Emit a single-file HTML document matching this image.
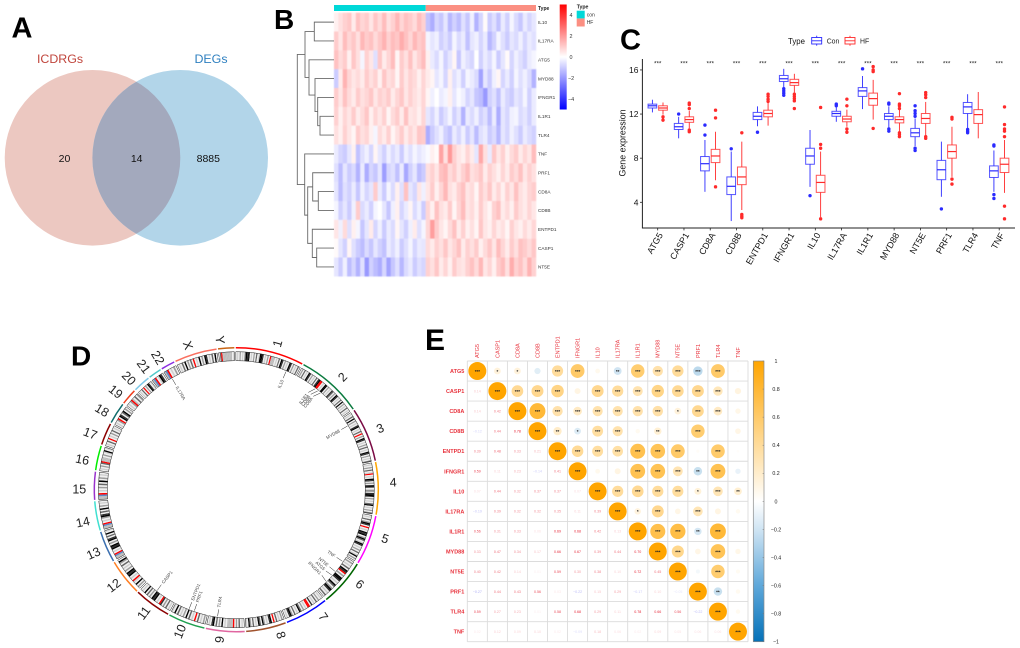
<!DOCTYPE html>
<html lang="en">
<head>
<meta charset="utf-8">
<title>Multi-panel gene expression figure</title>
<style>
html,body{margin:0;padding:0;background:#fff;width:1020px;height:648px;overflow:hidden}
svg{display:block}
text{font-family:"Liberation Sans",Arial,sans-serif}
</style>
</head>
<body>
<svg id="fig" xmlns="http://www.w3.org/2000/svg" width="1020" height="648" viewBox="0 0 1020 648">
  <defs>
    <clipPath id="venn-left-clip"><circle cx="92.5" cy="157.8" r="87.8"/></clipPath>
    <linearGradient id="heat-scale" x1="0" y1="0" x2="0" y2="1">
      <stop offset="0" stop-color="#ff0000"/><stop offset="0.5" stop-color="#ffffff"/><stop offset="1" stop-color="#0000ff"/>
    </linearGradient>
    <linearGradient id="corr-scale" x1="0" y1="0" x2="0" y2="1">
      <stop offset="0" stop-color="#ffa500"/><stop offset="0.2" stop-color="#ffca69"/><stop offset="0.4" stop-color="#ffedcc"/><stop offset="0.5" stop-color="#ffffff"/><stop offset="0.6" stop-color="#cfe4f3"/><stop offset="0.8" stop-color="#5fa8da"/><stop offset="1" stop-color="#0571b8"/>
    </linearGradient>
  </defs>

  <!-- Panel letters -->
  <g font-weight="bold" fill="#000">
    <text x="11.5" y="37.3" font-size="29">A</text>
    <text x="274" y="29" font-size="28">B</text>
    <text x="620" y="49.5" font-size="29">C</text>
    <text x="71" y="365.5" font-size="28">D</text>
    <text x="425" y="350" font-size="30">E</text>
  </g>

  <!-- Panel A: Venn -->
  <g>
    <circle cx="92.5" cy="157.8" r="87.8" fill="#ecc8c1"/>
    <circle cx="180.2" cy="157.8" r="87.8" fill="#b2d5e9"/>
    <circle cx="180.2" cy="157.8" r="87.8" fill="#a3a9bd" clip-path="url(#venn-left-clip)"/>
    <text x="60" y="63" text-anchor="middle" font-size="12.4" fill="#c0453c">ICDRGs</text>
    <text x="211" y="63" text-anchor="middle" font-size="12.4" fill="#2f80c0">DEGs</text>
    <text x="64.5" y="162" text-anchor="middle" font-size="10.5" fill="#111">20</text>
    <text x="136.7" y="162" text-anchor="middle" font-size="10.5" fill="#111">14</text>
    <text x="208.3" y="162" text-anchor="middle" font-size="10.5" fill="#111">8885</text>
  </g>

  <g id="panel-b"></g>
  <g id="panel-c"></g>
  <g id="panel-d"></g>
  <g id="panel-e"></g>
</svg>

<script>
/* ---------- Panel B data ---------- */
const heatGenes = ['IL10','IL17RA','ATG5','MYD88','IFNGR1','IL1R1','TLR4','TNF','PRF1','CD8A','CD8B','ENTPD1','CASP1','NT5E'];
const heatConColumns = 21;
const heatIL10   = [.3,.6,.9,1.1,.4,1.2,.8,1.0,.5,1.1,.7,1.3,.6,.9,1.4,.8,1.2,1.0,.7,1.3,.9,-1.2,-1.6,-.8,-1.1,-.5,-1.4,-.9,-1.3,-.6,-1.1,-.3,-1.5,-.8,.1,-1.0,-.6,-1.2,-.4,-.9,-.2,-.7,-1.1,-.4,-.8,-.5];
const heatIL17RA = [1.0,.5,1.3,.8,1.1,.6,1.4,1.0,1.2,.7,1.1,1.5,.9,1.3,1.1,1.6,1.2,.8,1.4,1.0,1.2,-.2,-.5,-.3,-.9,-.6,-1.0,-.2,-.7,-.4,-1.2,-.5,-.3,-.8,-.4,-1.4,-.9,-.2,-.6,-1.0,-.5,-.7,-.3,-.8,-.4,-.6];
const heatATG5   = [1.2,.7,1.0,.3,1.1,.6,-.2,.9,.5,-.6,1.1,.4,.8,1.3,.2,1.0,.6,1.2,.5,.9,1.3,.3,-.4,-.7,-.2,-.9,-.5,.2,-1.1,-.3,-.6,-.8,0,-.9,-.4,-.7,-.2,-1.0,-.5,.1,-.8,-.3,-.6,-.9,-.4,-.2];
const heatMYD88  = [-1.0,.4,1.5,.8,.5,.7,.4,1.0,.6,.9,.3,1.1,.6,.8,.2,1.0,.5,.9,.7,.3,.8,.4,.2,-.5,-.2,-.8,.3,-.6,-.3,-.9,-.2,-.4,-.7,-1.8,-.5,-1.0,-.3,.2,-.8,-.4,-.9,-.2,-.6,-.3,-.7,-1.5];
const heatIFNGR1 = [1.0,.5,1.2,.7,.4,1.0,.6,.8,1.1,.5,.9,.7,1.0,.4,.8,1.1,.5,.9,.6,.4,.8,.2,-.3,0,-.4,-.2,.3,-.5,-.1,-.3,-.8,-.5,-1.1,-1.3,-2.0,-.9,-.6,-1.2,-.4,-.8,-1.0,-.5,-.7,-.2,-.9,-.4];
const heatIL1R1  = [.9,.3,.8,.5,1.0,.4,.7,1.1,.3,.8,.5,.9,.2,.7,1.0,.4,1.2,.5,.6,.3,.8,-.5,-.8,-.3,-1.0,-.6,-.2,-.9,-.5,-1.5,-.4,-.7,-.3,-.9,-.6,-1.3,-.4,-1.6,-.5,-.8,-.3,-.2,-.7,-.5,-.9,-.4];
const heatTLR4   = [.6,.3,.9,.5,.2,1.0,.6,.8,.3,-.2,.7,.4,.9,.2,.6,1.0,.4,.8,.5,1.1,1.0,-1.6,-1.0,-.6,-.3,-.9,-1.2,-.4,-.8,-.3,-1.0,-.5,-1.3,-.6,-.4,-1.0,-.7,-1.4,-.5,-.8,-.3,-.6,-1.0,-.4,-.7,-.9];
const heatTNF    = [-.4,-.8,-1.0,-.5,.3,-1.2,-.6,-.3,-.8,.2,-.5,-.9,-.3,-.7,-.4,-1.0,-.3,-.6,-.2,-.5,-.3,-.1,.3,.1,1.8,.6,2.0,.9,.5,.3,.8,.4,-.5,1.7,.6,-.4,1.1,.5,.9,.3,.7,1.0,.4,.8,.5,1.3];
const heatPRF1   = [-.6,-1.3,-.5,-1.0,-.7,-1.5,-.4,-1.6,-.8,-1.1,-.5,-1.9,-.8,-.6,-1.2,-.4,-1.7,-.9,-.5,-1.3,-1.0,.6,.9,.5,1.2,1.4,.7,1.0,.5,.9,1.3,.6,.8,1.1,.4,.9,.6,.3,.8,.4,1.0,.7,1.2,.5,.9,.6];
const heatCD8A   = [-.5,-1.3,-.6,-.9,-.4,-1.1,-.3,-.8,-.5,1.0,-.4,-1.0,-.2,-.7,.3,-.6,1.2,-.5,-.8,.5,-.3,.5,1.0,.3,.8,1.4,.6,.4,.9,1.2,.5,.7,.2,1.0,.6,1.1,.4,.8,.3,.9,.5,1.2,.6,.4,.8,1.0];
const heatCD8B   = [-.2,-.9,-.5,-1.0,-.3,1.0,-.7,-.4,-.9,-.2,0,-.5,-1.1,-.3,.3,-.8,-.4,.2,-.7,-.3,-1.0,.8,.3,1.2,.6,.4,1.0,.2,.8,1.3,.5,.7,.3,1.0,.5,.2,.9,1.2,.4,.7,.3,1.0,.6,.4,.8,.5];
const heatENTPD1 = [.5,-.3,.7,-.6,.3,-.2,-1.1,-.5,.4,-.8,-.3,-1.0,-.4,-.7,.2,-.5,-.9,-.3,.4,-.6,-.2,.8,1.9,1.0,.5,.2,.7,1.2,.4,.9,.3,.6,.2,1.1,.5,.3,.8,.4,.6,.2,.9,.5,.3,.7,.4,.8];
const heatCASP1  = [.1,-.5,-.9,.2,-.6,-1.0,-1.3,-.7,-1.1,-.5,-.9,-1.2,-.4,-.7,-.3,-1.0,-.6,-.2,-.8,-.4,-.5,.7,.4,.9,.6,1.1,.5,.8,1.2,.4,.9,.6,1.0,.3,.7,1.1,.5,1.3,.8,.4,1.0,.6,1.2,1.0,.7,1.1];
const heatNT5E   = [-.5,-1.0,-.3,-1.3,-.8,-1.5,-.6,-2.0,-.9,-1.3,-1.6,-.8,-1.8,-1.1,-.6,-1.4,-.7,-.4,-1.0,-.6,-.8,.9,.6,1.1,.4,.8,.3,1.0,.6,.5,.9,1.2,.7,1.4,.5,.8,.3,1.0,1.3,.6,1.6,.9,1.2,.7,1.5,.9];
const heatRows = [heatIL10,heatIL17RA,heatATG5,heatMYD88,heatIFNGR1,heatIL1R1,heatTLR4,heatTNF,heatPRF1,heatCD8A,heatCD8B,heatENTPD1,heatCASP1,heatNT5E];
const heatTicks = [4,2,0,-2,-4];
/* tree node = [merge height, child, child]; a number child is a row index */
const heatTree = [36.7,
  [29,[19.7,0,1],[25,2,[19,3,[16.3,4,[14,5,6]]]]],
  [29.3,7,[26.3,[21.3,8,[15.7,9,10]],[21.7,11,[17.3,12,13]]]]];

/* ---------- Panel C data ---------- */
const boxGenes = ['ATG5','CASP1','CD8A','CD8B','ENTPD1','IFNGR1','IL10','IL17RA','IL1R1','MYD88','NT5E','PRF1','TLR4','TNF'];
const boxYTicks = [4,8,12,16];
const conLow = [12.15,9.8,4.95,2.3,10.9,14.35,5.4,11.3,12.45,10.75,9.1,4.5,10.7,4.95];
const conQ1  = [12.55,10.6,6.85,4.7,11.5,14.95,7.45,11.8,13.6,11.5,9.95,6.05,12.05,6.25];
const conMed = [12.75,10.85,7.5,5.45,11.8,15.2,8.2,12.05,14.1,11.8,10.3,6.95,12.65,6.85];
const conQ3  = [12.9,11.15,8.15,6.3,12.15,15.5,8.9,12.25,14.4,12.05,10.7,7.8,13.05,7.3];
const conHigh= [13.3,11.75,9.65,8.6,12.7,16.1,10.55,12.6,15.45,12.7,11.6,9.5,13.8,8.7];
const conOutliers = [[],[12.0],[11,10.1],[8.85],[10.35],[14.3,14.1,13.9,13.7],[4.6],[12.9,12.75],[16.1],[13,12.9,10.65,10.45],[12.75,12.3,12.05,11.8,8.9,8.7],[3.4],[10.6,10.45,10.3],[9.2,9.1,4.7,4.35]];
const hfLow = [11.95,10.7,6.0,3.3,10.95,13.95,2.65,10.85,11.5,10.4,10.05,6.3,9.8,4.85];
const hfQ1  = [12.35,11.25,7.6,5.6,11.75,14.6,4.9,11.3,12.8,11.2,11.15,8.0,11.15,6.7];
const hfMed = [12.55,11.5,8.2,6.3,12.05,14.85,5.8,11.55,13.4,11.5,11.6,8.6,11.95,7.45];
const hfQ3  = [12.75,11.75,8.8,7.2,12.35,15.15,6.45,11.8,13.9,11.75,12.05,9.2,12.4,8.0];
const hfHigh= [13.05,12.3,10.4,9.5,13.1,15.65,8.6,12.4,15.1,12.4,13.1,10.85,14,9.65];
const hfOutliers = [[11.75,11.45],[13,12.85,12.5,10.55,10.4],[12.35,11.65,5.4],[10.3,2.9,2.75,2.6],[13.8,13.6,13.35,13.15],[13.8,13.6,13.4,13.2,12.5],[12.6,9.25,8.9,2.5],[13.35,12.75,10.65,10.35],[16.3,16,15.85,10.7],[13.85,12.9,12.75,12.5,10.3,10.15,9.95],[13.95,13.75,13.5,9.95,9.8],[11.7,11.55,6.1,5.65],[],[12.65,11.05,10.65,10.45,9.95,3.65,2.5]];
const boxSignificance = ['***','***','***','***','***','***','***','***','***','***','***','***','***','***'];

/* ---------- Panel D data ---------- */
const chromNames = ['1','2','3','4','5','6','7','8','9','10','11','12','13','14','15','16','17','18','19','20','21','22','X','Y'];
const chromSizes = [249,243,198,191,181,171,159,146,141,135,135,133,115,107,102,90,81,78,59,63,48,51,155,59];
const chromLabelAngles = [15.8,43.4,67,87.4,108.3,127.5,145.7,163,186.3,201.6,216.8,231.9,245.9,258,270,281,291,300.5,309,316,323,329.2,341.4,353.7];
const chromColors = ['#ff0000','#0a7a3e','#7a0a44','#ffa500','#ff00ff','#006400','#0000ff','#a0522d','#e066a0','#1fa050','#8b0000','#ff7f24','#3b6fb0','#40e0d0','#9932cc','#00ee00','#8b0000','#0f6b6b','#ee4020','#7ec8e8','#50c8c8','#8a2be2','#fa7060','#c86414'];
/* cytoband stains: w white, a light, g grey, b mid, c dark, d darker, k black, r centromere, n stalk */
const chromBands = [
 'wawbwawckdkwawbwcwakkdwawbwrgggwawcwkdwbwawkdwbwawcw',
 'wbwcwawkdwbwawcwdkrrwawkkwbwawdcwbwkdwawcwkwbwawcwaw',
 'wawcwkwbwawdkwawcwrwbwkdwawbwcwawkdwbwawc',
 'wawbwcwarwawkdwbwkdwacwdkkwbwawckwawbwc',
 'wawcwbkdwrwawkdkwbkcwakdwawbwcwakwbw',
 'wbwawcwkdrwbwkkdwawkcwbkdwawcw',
 'wawbwcwawdwrrwawbwckwawcwbkdwaw',
 'wbwawcwrwkdwawbkwckwawcwbkwa',
 'wawcwbwrggggwawkwbwcwkdwaw',
 'wbwawcwrwawcwkwbwawcwkwa',
 'wawcwbwdrwawkdkwbwcwkwaw',
 'wbwkwarwawkdkwbwawcwbkw',
 'ggnrwawkdkwbwkdwcwkwa',
 'ggnrwawbkdwcwkwbwaw',
 'ggnrwawbwcwkwbwaw',
 'wawbwcrgggwbwakwa',
 'wawcwrwawbwcwaw',
 'wawbrwkdwckwbw',
 'wawbrgwcwb',
 'wawcwrwbwkdwa',
 'gnrwakdw',
 'gnrwawbw',
 'wawcwkwbwcwrwawkwbwkdwawcwkw',
 'wcrggggggggwa'
];
const geneNames = ['IL10','IL1R1','CD8B','CD8A','MYD88','TNF','NT5E','ATG5','IFNGR1','TLR4','PRF1','ENTPD1','CASP1','IL17RA'];
const geneAngles = [22.8,38,39.5,41,60.2,124,129.6,131.8,135.6,188.4,199.1,201.6,218.1,330];
const geneLabelAngles = [22.8,36.5,38,39.5,60.2,124,129.6,132.2,135,188.4,199.1,201.6,218.3,330];

/* ---------- Panel E data ---------- */
const corrGenes = ['ATG5','CASP1','CD8A','CD8B','ENTPD1','IFNGR1','IL10','IL17RA','IL1R1','MYD88','NT5E','PRF1','TLR4','TNF'];
const corrLower = [
 [],
 [.14],
 [.14,.42],
 [-.12,.44,.78],
 [.39,.48,.33,.21],
 [.59,.11,.23,-.14,.41],
 [.07,.44,.32,.37,.37,.07],
 [-.19,.39,.32,.32,.35,.11,.39],
 [.56,.31,.33,.06,.69,.68,.42,.13],
 [.33,.47,.34,.17,.66,.67,.39,.44,.70],
 [.40,.42,.14,.01,.59,.30,.38,.10,.72,.45],
 [-.27,.44,.43,.56,.03,-.22,.15,.29,-.17,.10,-.05],
 [.59,.27,.23,.01,.58,.68,.29,.11,.78,.66,.56,-.22],
 [.02,.12,.09,.10,.02,-.09,.18,.06,.02,.09,.05,.06,.06]
];
const corrTicks = [1,.8,.6,.4,.2,0,-.2,-.4,-.6,-.8,-1];

/* ---------- helpers ---------- */
const NS = 'http://www.w3.org/2000/svg';
function mk(tag, attrs, parent, content){
  const node = document.createElementNS(NS, tag);
  for (const k in attrs) node.setAttribute(k, attrs[k]);
  if (content !== undefined) node.textContent = content;
  parent.appendChild(node);
  return node;
}
function mixHex(c, t){ return c.map(v => Math.round(255 + (v - 255) * t)); }
function rgb(a){ return 'rgb(' + a.join(',') + ')'; }

/* ---------- Panel B ---------- */
(function(){
  const root = document.getElementById('panel-b');
  const left = 334, right = 536, top = 12.7, rowH = 18.83;
  const nCols = heatRows[0].length;
  const hfCols = nCols - heatConColumns;
  const splitX = 425.7;
  const colX = c => c < heatConColumns ? left + (splitX - left) * c / heatConColumns : splitX + (right - splitX) * (c - heatConColumns) / hfCols;
  const rowY = r => top + rowH * r;
  const heatColor = v => v >= 0 ? rgb(mixHex([255,0,0], Math.min(1, v / 5))) : rgb(mixHex([0,0,255], Math.min(1, -v / 5)));

  let el = mk('rect', {x:left, y:5, width:splitX-left, height:6, fill:'#00d8d8'}, root);
  
  
  el = mk('rect', {x:splitX, y:5, width:right-splitX, height:6, fill:'#fb8f82'}, root);
  
  
  el = mk('text', {x:538, y:10, 'font-size':5, 'font-weight':'bold', fill:'#222'}, root, 'Type');
  
  

  const cells = mk('g', {style:'filter:blur(0.5px)'}, root);
  
  
  heatRows.forEach((row, r) => {
    row.forEach((v, c) => {
      const x0 = colX(c), x1 = c + 1 < nCols ? colX(c + 1) : right;
      const cell = mk('rect', {x:x0, y:rowY(r), width:x1 - x0 + .2, height:rowH + .2, fill:heatColor(v)}, cells);
      
      
    });
  });
  heatGenes.forEach((g, r) => {
    const t = mk('text', {x:538, y:rowY(r) + rowH / 2 + 1.7, 'font-size':4.7, fill:'#333'}, root, g);
    
    
  });

  /* dendrogram */
  const dend = mk('g', {fill:'none', stroke:'#6a6a6a', 'stroke-width':.9}, root);
  
  
  function draw(node){
    if (typeof node === 'number') return {x:left, y:rowY(node) + rowH / 2};
    const x = left - node[0];
    const a = draw(node[1]), b = draw(node[2]);
    const p = mk('path', {d:`M${a.x} ${a.y}H${x}V${b.y}H${b.x}`}, dend);
    
    
    return {x, y:(a.y + b.y) / 2};
  }
  draw(heatTree);

  /* colour bar */
  const scaleY = v => 57 - v * 10.5;
  el = mk('rect', {x:559.7, y:scaleY(5), width:7, height:105, fill:'url(#heat-scale)'}, root);
  
  
  heatTicks.forEach(v => {
    const t = mk('text', {x:v < 0 ? 568 : 569.5, y:scaleY(v) + 2, 'font-size':5.4, fill:'#333'}, root, v < 0 ? '\u2212' + (-v) : String(v));
    
    
  });

  /* legend */
  el = mk('text', {x:576.7, y:8.5, 'font-size':5.2, 'font-weight':'bold', fill:'#222'}, root, 'Type');
  
  
  el = mk('rect', {x:576.7, y:10.7, width:8, height:7.7, fill:'#00d8d8'}, root);
  
  
  el = mk('rect', {x:576.7, y:18.5, width:8, height:8, fill:'#fb8f82'}, root);
  
  
  el = mk('text', {x:586.7, y:16.5, 'font-size':5, fill:'#333'}, root, 'con');
  
  
  el = mk('text', {x:586.7, y:24.2, 'font-size':5, fill:'#333'}, root, 'HF');
  
  
})();

/* ---------- Panel C ---------- */
(function(){
  const root = document.getElementById('panel-c');
  const yScale = v => 202.3 - (v - 4) * 11.03;
  const xScale = i => 657.7 + i * 26.27;
  const BLUE = '#2a2aff', RED = '#ff2a2a';

  let el = mk('path', {d:'M642.4 59V228H1015', fill:'none', stroke:'#222', 'stroke-width':1}, root);
  
  

  boxYTicks.forEach(v => {
    const y = yScale(v);
    const tick = mk('line', {x1:640, x2:642.4, y1:y, y2:y, stroke:'#222', 'stroke-width':.8}, root);
    
    
    const t = mk('text', {x:638.5, y:y + 3, 'text-anchor':'end', 'font-size':8.5, fill:'#111'}, root, String(v));
    
    
  });
  el = mk('text', {x:0, y:0, transform:'translate(625.5 143) rotate(-90)', 'text-anchor':'middle', 'font-size':8.9, fill:'#111'}, root, 'Gene expression');
  
  

  function drawBox(i, off, color, lo, q1, med, q3, hi, outs, name){
    const cx = xScale(i) + off, w = 8.7;
    const g = mk('g', {stroke:color, fill:'none'}, root);
    
    
    const wh = mk('line', {x1:cx, x2:cx, y1:yScale(hi), y2:yScale(lo), 'stroke-width':.9}, g);
    
    
    const box = mk('rect', {x:cx - w / 2, y:yScale(q3), width:w, height:yScale(q1) - yScale(q3), fill:'#fff', 'stroke-opacity':.8, 'stroke-width':1}, g);
    
    
    const m = mk('line', {x1:cx - w / 2, x2:cx + w / 2, y1:yScale(med), y2:yScale(med), 'stroke-width':1.2}, g);
    
    
    outs.forEach(v => {
      const p = mk('circle', {cx:cx, cy:yScale(v), r:1.7, fill:color, stroke:'none'}, g);
      
      
    });
  }
  boxGenes.forEach((gene, i) => {
    drawBox(i, -5.3, BLUE, conLow[i], conQ1[i], conMed[i], conQ3[i], conHigh[i], conOutliers[i], 'box-con-' + gene.toLowerCase());
    drawBox(i, 5.3, RED, hfLow[i], hfQ1[i], hfMed[i], hfQ3[i], hfHigh[i], hfOutliers[i], 'box-hf-' + gene.toLowerCase());
    const x = xScale(i);
    const tick = mk('line', {x1:x, x2:x, y1:228, y2:230.4, stroke:'#222', 'stroke-width':.8}, root);
    
    
    const lab = mk('text', {x:0, y:0, transform:`translate(${x + 5.5} 235) rotate(-60)`, 'text-anchor':'end', 'font-size':8.9, fill:'#111'}, root, gene);
    
    
    const sig = mk('text', {x:x, y:65.6, 'text-anchor':'middle', 'font-size':6.4, fill:'#222'}, root, boxSignificance[i]);
    
    
  });

  /* legend */
  el = mk('text', {x:788, y:44, 'font-size':7.8, fill:'#111'}, root, 'Type');
  
  
  function key(x, color, label, name){
    const g = mk('g', {stroke:color, fill:'#fff', 'stroke-width':.9}, root);
    
    
    mk('line', {x1:x + 5, x2:x + 5, y1:35.7, y2:45.7}, g);
    mk('rect', {x:x, y:37.5, width:10, height:6.5}, g);
    mk('line', {x1:x, x2:x + 10, y1:40.8, y2:40.8}, g);
    const t = mk('text', {x:x + 15, y:43.5, 'font-size':6.9, fill:'#222'}, root, label);
    
    
  }
  key(811.7, BLUE, 'Con', 'legend-key-con');
  key(845, RED, 'HF', 'legend-key-hf');
})();

/* ---------- Panel D ---------- */
(function(){
  const root = document.getElementById('panel-d');
  const cx = 236.3, cy = 489.7;
  const gap = 0.6;
  const total = chromSizes.reduce((a, b) => a + b, 0);
  const degPerMb = (360 - gap * chromSizes.length) / total;
  const pt = (r, a) => {
    const t = a * Math.PI / 180;
    return [cx + r * Math.sin(t), cy - r * Math.cos(t)];
  };
  const arc = (r, a0, a1) => {
    const p0 = pt(r, a0), p1 = pt(r, a1);
    return `M${p0[0].toFixed(2)} ${p0[1].toFixed(2)}A${r} ${r} 0 ${a1 - a0 > 180 ? 1 : 0} 1 ${p1[0].toFixed(2)} ${p1[1].toFixed(2)}`;
  };
  const sector = (r0, r1, a0, a1) => {
    const a = pt(r1, a0), b = pt(r1, a1), c = pt(r0, a1), d = pt(r0, a0);
    return `M${a[0].toFixed(2)} ${a[1].toFixed(2)}A${r1} ${r1} 0 0 1 ${b[0].toFixed(2)} ${b[1].toFixed(2)}L${c[0].toFixed(2)} ${c[1].toFixed(2)}A${r0} ${r0} 0 0 0 ${d[0].toFixed(2)} ${d[1].toFixed(2)}Z`;
  };
  const stain = {w:'#efefef', a:'#cfcfcf', g:'#bdbdbd', b:'#9c9c9c', c:'#666666', d:'#2e2e2e', k:'#000000', r:'#ff0000', n:'#5a8ac8'};

  let a = -0.2;
  chromNames.forEach((name, i) => {
    const span = chromSizes[i] * degPerMb;
    const a0 = a, a1 = a + span;
    const ring = mk('path', {d:arc(142, a0, a1), fill:'none', stroke:chromColors[i], 'stroke-width':1.5}, root);
    
    

    const bands = chromBands[i];
    const step = span / bands.length;
    const grp = mk('g', {}, root);
    
    
    for (let b = 0; b < bands.length; b++) {
      const band = mk('path', {d:sector(129, 138, a0 + b * step, a0 + (b + 1) * step + .02), fill:stain[bands[b]]}, grp);
      
      
    }
    const outline = mk('path', {d:sector(129, 138, a0, a1), fill:'none', stroke:'#222', 'stroke-width':.5}, grp);
    
    

    const la = chromLabelAngles[i];
    const rot = la < 180 ? la - 90 : la - 270;
    const lr = 150 + 7 * Math.abs(Math.sin(la * Math.PI / 180));
    const lp = pt(lr, la);
    const lab = mk('text', {x:0, y:0, transform:`translate(${lp[0].toFixed(2)} ${lp[1].toFixed(2)}) rotate(${rot.toFixed(1)})`, 'text-anchor':'middle', 'dominant-baseline':'central', 'font-size':12.5, fill:'#222'}, root, name);
    
    
    a = a1 + gap;
  });

  geneNames.forEach((g, i) => {
    const p0 = pt(128, geneAngles[i]), p1 = pt(121, geneLabelAngles[i]);
    const ln = mk('line', {x1:p0[0], y1:p0[1], x2:p1[0], y2:p1[1], stroke:'#222', 'stroke-width':.5}, root);
    
    
    const la = geneLabelAngles[i];
    const tp = pt(119, la);
    const rot = la < 180 ? la - 90 : la - 270;
    const t = mk('text', {x:0, y:0, transform:`translate(${tp[0].toFixed(2)} ${tp[1].toFixed(2)}) rotate(${rot.toFixed(1)})`, 'text-anchor':la < 180 ? 'end' : 'start', 'dominant-baseline':'central', 'font-size':4.5, fill:'#444'}, root, g);
    
    
  });
})();

/* ---------- Panel E ---------- */
(function(){
  const root = document.getElementById('panel-e');
  const x0 = 467.3, y0 = 361, cell = 20.05, n = corrGenes.length;
  const cx = i => x0 + cell * (i + .5);
  const cy = i => y0 + cell * (i + .5);
  const corrValue = (r, c) => r === c ? 1 : (r > c ? corrLower[r][c] : corrLower[c][r]);
  const corrColor = v => v >= 0 ? rgb(mixHex([255,165,0], v)) : rgb(mixHex([5,113,184], -v));
  const stars = v => { const m = Math.abs(v); return m >= .23 ? '***' : m >= .17 ? '**' : m >= .13 ? '*' : ''; };

  for (let i = 0; i <= n; i++) {
    const gx = x0 + cell * i, gy = y0 + cell * i;
    const v = mk('line', {x1:gx, x2:gx, y1:y0, y2:y0 + cell * n, stroke:'#dcdcdc', 'stroke-width':.9}, root);
    
    
    const h = mk('line', {x1:x0, x2:x0 + cell * n, y1:gy, y2:gy, stroke:'#dcdcdc', 'stroke-width':.9}, root);
    
    
  }
  corrGenes.forEach((g, i) => {
    const top = mk('text', {x:0, y:0, transform:`translate(${cx(i) + 1.9} 358) rotate(-90)`, 'font-size':5.5, fill:'#e8323c'}, root, g);
    
    
    const left = mk('text', {x:464.3, y:cy(i) + 2, 'text-anchor':'end', 'font-size':5.5, 'font-weight':'bold', fill:'#e8323c'}, root, g);
    
    
  });
  for (let r = 0; r < n; r++) {
    for (let c = 0; c < n; c++) {
      const v = corrValue(r, c);
      if (c >= r) {
        const dot = mk('circle', {cx:cx(c), cy:cy(r), r:9 * Math.sqrt(Math.abs(v)), fill:corrColor(v)}, root);
        
        
        const s = stars(v);
        if (s) {
          const t = mk('text', {x:cx(c), y:cy(r) + 1.8, 'text-anchor':'middle', 'font-size':4.5, 'font-weight':'bold', fill:'#222'}, root, s);
          
          
        }
      } else {
        const colr = v >= 0 ? '#e41a2c' : '#3a3ae8';
        const op = Math.min(1, Math.abs(v) * 1.25 + .08);
        const t = mk('text', {x:cx(c), y:cy(r) + 1.3, 'text-anchor':'middle', 'font-size':3.6, fill:colr, 'fill-opacity':op.toFixed(2)}, root, v.toFixed(2).replace('-', '\u2212'));
        
        
      }
    }
  }
  /* colour bar */
  const barY = v => 361 + (1 - v) * 140.35;
  let el = mk('rect', {x:753.3, y:barY(1), width:10.7, height:barY(-1) - barY(1), fill:'url(#corr-scale)', stroke:'#8a8a8a', 'stroke-width':.7}, root);
  
  
  corrTicks.forEach(v => {
    const y = barY(v);
    const tk = mk('line', {x1:762.6, x2:764, y1:y, y2:y, stroke:'#777', 'stroke-width':.5}, root);
    
    
    const label = v === 0 ? '0' : (v === 1 ? '1' : v === -1 ? '\u22121' : (v < 0 ? '\u2212' : '') + Math.abs(v).toFixed(1));
    const t = mk('text', {x:776, y:y + 1.9, 'text-anchor':'middle', 'font-size':5.3, fill:'#222'}, root, label);
    
    
  });
})();
</script>
</body>
</html>
